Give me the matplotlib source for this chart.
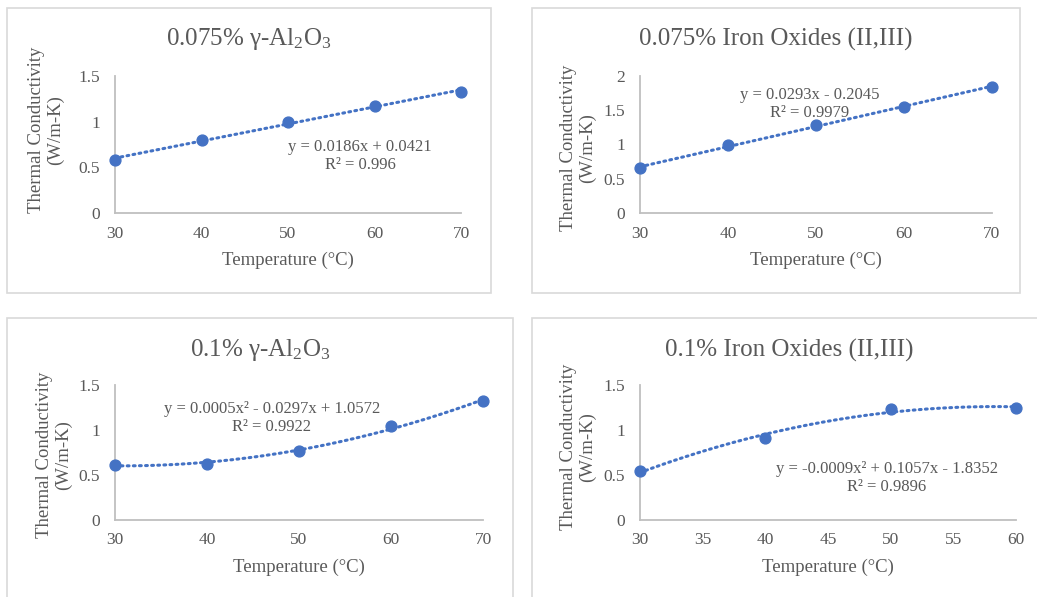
import numpy as np
import matplotlib
matplotlib.use("Agg")
import matplotlib.pyplot as plt
from matplotlib.patches import Rectangle

plt.rcParams['font.family'] = ['Liberation Serif', 'DejaVu Serif']
plt.rcParams['mathtext.fontset'] = 'custom'
plt.rcParams['mathtext.rm'] = 'Liberation Serif'
plt.rcParams['mathtext.it'] = 'Liberation Serif:italic'

# ---- data ----
temp_a = [30, 40, 50, 60, 70]
temp_d = [30, 40, 50, 60]
k_al_0075 = [0.58, 0.80, 0.995, 1.17, 1.33]
k_fe_0075 = [0.65, 0.995, 1.28, 1.545, 1.845]
k_al_01 = [0.615, 0.62, 0.765, 1.05, 1.32]
k_fe_01 = [0.54, 0.915, 1.235, 1.245]

titles = ["0.075% γ-Al$_2$O$_3$", "0.075% Iron Oxides (II,III)",
          "0.1% γ-Al$_2$O$_3$", "0.1% Iron Oxides (II,III)"]
equations = ["y = 0.0186x + 0.0421\nR² = 0.996",
             "y = 0.0293x - 0.2045\nR² = 0.9979",
             "y = 0.0005x² - 0.0297x + 1.0572\nR² = 0.9922",
             "y = -0.0009x² + 0.1057x - 1.8352\nR² = 0.9896"]
fit_degree = [1, 1, 2, 2]
xticks_list = [[30, 40, 50, 60, 70], [30, 40, 50, 60, 70],
               [30, 40, 50, 60, 70], [30, 35, 40, 45, 50, 55, 60]]
yticks_list = [[0, 0.5, 1, 1.5], [0, 0.5, 1, 1.5, 2],
               [0, 0.5, 1, 1.5], [0, 0.5, 1, 1.5]]
ytick_labels = [["0", "0.5", "1", "1.5"], ["0", "0.5", "1", "1.5", "2"],
                ["0", "0.5", "1", "1.5"], ["0", "0.5", "1", "1.5"]]
xs = [temp_a, temp_a, temp_a, temp_d]
ys = [k_al_0075, k_fe_0075, k_al_01, k_fe_01]

W, H = 1037, 597
fig = plt.figure(figsize=(W / 100, H / 100), dpi=100)

TXT = '#595959'
AX = '#BFBFBF'
BLUE = '#4472C4'

def fx(px):
    return px / W

def fy(py):
    return 1 - py / H

# layout in pixels
borders = [(7, 8, 491, 293), (532, 8, 1020, 293), (7, 318, 513, 640), (532, 318, 1046, 640)]
axes_px = [(115, 76, 461, 213), (640, 76, 992, 213), (115, 385, 483, 520), (640, 385, 1016, 520)]
title_pos = [(249, 39), (776, 39), (260, 350), (789, 350)]
ylab_pos = [(46, 130), (578, 148), (54, 455), (578, 447)]
xlab_pos = [(288, 260), (816, 260), (299, 567), (828, 567)]
eq_pos = [(360, 156), (810, 104), (272, 418), (887, 478)]

for i in range(4):
    bx0, by0, bx1, by1 = borders[i]
    fig.patches.append(Rectangle((fx(bx0), fy(by1)), fx(bx1 - bx0), (by1 - by0) / H,
                                 transform=fig.transFigure, fill=False,
                                 edgecolor='#D9D9D9', linewidth=1.2, zorder=0))
    x0, y0, x1, y1 = axes_px[i]
    ax = fig.add_axes([fx(x0), fy(y1), fx(x1 - x0), (y1 - y0) / H])
    ax.patch.set_alpha(0)
    x = np.array(xs[i], dtype=float)
    y = np.array(ys[i], dtype=float)
    coef = np.polyfit(x, y, fit_degree[i])
    xf = np.linspace(x.min(), x.max(), 200)
    ax.plot(xf, np.polyval(coef, xf), linestyle=(0, (0.6, 1.4)), color=BLUE,
            linewidth=2.2, dash_capstyle='round', zorder=2)
    ax.plot(x, y, 'o', color=BLUE, markersize=7.8, zorder=3, clip_on=False)
    ax.set_xlim(xticks_list[i][0], xticks_list[i][-1])
    ax.set_ylim(yticks_list[i][0], yticks_list[i][-1])
    ax.set_xticks(xticks_list[i])
    ax.set_xticklabels([str(t) for t in xticks_list[i]])
    ax.set_yticks(yticks_list[i])
    ax.set_yticklabels(ytick_labels[i])
    ax.tick_params(axis='both', length=0, labelsize=12.5, colors=TXT)
    ax.tick_params(axis='y', pad=11)
    ax.tick_params(axis='x', pad=9)
    for s in ['top', 'right']:
        ax.spines[s].set_visible(False)
    for s in ['left', 'bottom']:
        ax.spines[s].set_color(AX)
        ax.spines[s].set_linewidth(1.3)

    tx, ty = title_pos[i]
    fig.text(fx(tx), fy(ty), titles[i], ha='center', va='center', fontsize=18, color=TXT)
    lx, ly = ylab_pos[i]
    fig.text(fx(lx), fy(ly), "Thermal Conductivity\n(W/m-K)", ha='center', va='center',
             rotation=90, fontsize=13.5, color=TXT, linespacing=1.15)
    xx, xy = xlab_pos[i]
    fig.text(fx(xx), fy(xy), "Temperature (°C)", ha='center', va='center',
             fontsize=13.5, color=TXT)
    ex, ey = eq_pos[i]
    fig.text(fx(ex), fy(ey), equations[i], ha='center', va='center',
             fontsize=12, color=TXT, linespacing=1.1)

fig.savefig("out.png", dpi=100)
